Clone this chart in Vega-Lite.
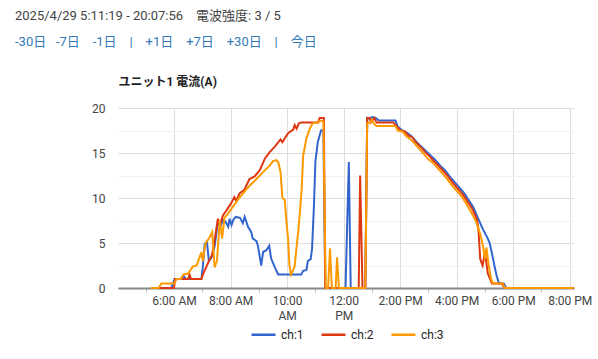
{
  "$schema": "https://vega.github.io/schema/vega-lite/v6.json",
  "width": 456,
  "height": 180,
  "autosize": {"type": "none"},
  "padding": {"left": 118, "top": 108, "right": 24, "bottom": 71},
  "background": "white",
  "config": {"view": {"stroke": null}},
  "title": {
    "text": "2025/4/29 5:11:19 - 20:07:56\u3000電波強度: 3 / 5",
    "subtitle": "-30日\u00a0\u00a0\u00a0-7日\u00a0\u00a0\u00a0\u00a0-1日\u00a0\u00a0\u00a0\u00a0|\u00a0\u00a0\u00a0\u00a0+1日\u00a0\u00a0\u00a0\u00a0+7日\u00a0\u00a0\u00a0\u00a0+30日\u00a0\u00a0\u00a0\u00a0|\u00a0\u00a0\u00a0\u00a0今日",
    "anchor": "start",
    "frame": "group",
    "dx": -103,
    "dy": -22,
    "font": "Roboto, Noto Sans CJK JP, sans-serif",
    "fontSize": 13,
    "fontWeight": "normal",
    "color": "#444444",
    "subtitleFont": "Roboto, Noto Sans CJK JP, sans-serif",
    "subtitleFontSize": 13,
    "subtitleColor": "#337ab7",
    "subtitlePadding": 13
  },
  "data": {
    "format": {"parse": {"t": "date:'%H:%M'"}},
    "values": [
      {"t":"05:11","c":"ch:1","v":0},{"t":"05:54","c":"ch:1","v":0},{"t":"05:58","c":"ch:1","v":0.5},{"t":"06:01","c":"ch:1","v":1.0},{"t":"06:18","c":"ch:1","v":1.0},{"t":"06:21","c":"ch:1","v":1.3},{"t":"06:25","c":"ch:1","v":1.0},{"t":"06:58","c":"ch:1","v":1.0},{"t":"07:01","c":"ch:1","v":2.3},{"t":"07:05","c":"ch:1","v":4.9},{"t":"07:10","c":"ch:1","v":5.0},{"t":"07:14","c":"ch:1","v":3.0},{"t":"07:20","c":"ch:1","v":3.4},{"t":"07:26","c":"ch:1","v":4.6},{"t":"07:33","c":"ch:1","v":7.3},{"t":"07:38","c":"ch:1","v":6.8},{"t":"07:44","c":"ch:1","v":7.6},{"t":"07:50","c":"ch:1","v":7.3},{"t":"07:55","c":"ch:1","v":6.8},{"t":"07:58","c":"ch:1","v":7.7},{"t":"08:02","c":"ch:1","v":7.0},{"t":"08:06","c":"ch:1","v":7.6},{"t":"08:11","c":"ch:1","v":7.9},{"t":"08:20","c":"ch:1","v":7.8},{"t":"08:26","c":"ch:1","v":7.2},{"t":"08:30","c":"ch:1","v":7.9},{"t":"08:37","c":"ch:1","v":6.8},{"t":"08:44","c":"ch:1","v":6.2},{"t":"08:47","c":"ch:1","v":5.5},{"t":"08:55","c":"ch:1","v":5.2},{"t":"08:58","c":"ch:1","v":4.7},{"t":"09:05","c":"ch:1","v":2.5},{"t":"09:09","c":"ch:1","v":4.0},{"t":"09:16","c":"ch:1","v":4.2},{"t":"09:22","c":"ch:1","v":4.7},{"t":"09:26","c":"ch:1","v":3.3},{"t":"09:34","c":"ch:1","v":2.3},{"t":"09:41","c":"ch:1","v":1.5},{"t":"10:30","c":"ch:1","v":1.5},{"t":"10:34","c":"ch:1","v":1.9},{"t":"10:41","c":"ch:1","v":2.0},{"t":"10:44","c":"ch:1","v":3.0},{"t":"10:50","c":"ch:1","v":3.2},{"t":"10:53","c":"ch:1","v":4.4},{"t":"10:57","c":"ch:1","v":9.2},{"t":"11:00","c":"ch:1","v":14.0},{"t":"11:05","c":"ch:1","v":16.2},{"t":"11:12","c":"ch:1","v":17.5},{"t":"11:17","c":"ch:1","v":17.5},{"t":"11:21","c":"ch:1","v":0},{"t":"12:04","c":"ch:1","v":0},{"t":"12:11","c":"ch:1","v":14.0},{"t":"12:15","c":"ch:1","v":0},{"t":"12:46","c":"ch:1","v":0},{"t":"12:50","c":"ch:1","v":18.9},{"t":"12:55","c":"ch:1","v":18.8},{"t":"13:00","c":"ch:1","v":19.0},{"t":"13:08","c":"ch:1","v":18.9},{"t":"13:15","c":"ch:1","v":18.6},{"t":"13:50","c":"ch:1","v":18.6},{"t":"13:55","c":"ch:1","v":17.9},{"t":"14:05","c":"ch:1","v":17.5},{"t":"14:15","c":"ch:1","v":17.2},{"t":"14:25","c":"ch:1","v":16.8},{"t":"14:35","c":"ch:1","v":16.2},{"t":"14:45","c":"ch:1","v":15.7},{"t":"14:55","c":"ch:1","v":15.2},{"t":"15:05","c":"ch:1","v":14.7},{"t":"15:15","c":"ch:1","v":14.2},{"t":"15:25","c":"ch:1","v":13.6},{"t":"15:35","c":"ch:1","v":13.1},{"t":"15:45","c":"ch:1","v":12.4},{"t":"15:55","c":"ch:1","v":11.8},{"t":"16:05","c":"ch:1","v":11.2},{"t":"16:15","c":"ch:1","v":10.6},{"t":"16:25","c":"ch:1","v":9.8},{"t":"16:35","c":"ch:1","v":9.0},{"t":"16:45","c":"ch:1","v":7.8},{"t":"16:55","c":"ch:1","v":6.6},{"t":"17:05","c":"ch:1","v":5.6},{"t":"17:10","c":"ch:1","v":5.0},{"t":"17:15","c":"ch:1","v":3.8},{"t":"17:20","c":"ch:1","v":2.5},{"t":"17:25","c":"ch:1","v":1.3},{"t":"17:30","c":"ch:1","v":0.5},{"t":"17:40","c":"ch:1","v":0.5},{"t":"17:45","c":"ch:1","v":0},{"t":"20:08","c":"ch:1","v":0},

      {"t":"05:11","c":"ch:2","v":0},{"t":"06:00","c":"ch:2","v":0},{"t":"06:02","c":"ch:2","v":1.0},{"t":"06:30","c":"ch:2","v":1.0},{"t":"06:33","c":"ch:2","v":1.5},{"t":"06:36","c":"ch:2","v":1.0},{"t":"06:58","c":"ch:2","v":1.0},{"t":"07:02","c":"ch:2","v":1.6},{"t":"07:08","c":"ch:2","v":2.3},{"t":"07:14","c":"ch:2","v":3.0},{"t":"07:20","c":"ch:2","v":3.6},{"t":"07:24","c":"ch:2","v":4.6},{"t":"07:33","c":"ch:2","v":7.7},{"t":"07:37","c":"ch:2","v":7.0},{"t":"07:44","c":"ch:2","v":8.1},{"t":"07:51","c":"ch:2","v":8.6},{"t":"08:01","c":"ch:2","v":9.4},{"t":"08:08","c":"ch:2","v":10.1},{"t":"08:12","c":"ch:2","v":9.7},{"t":"08:19","c":"ch:2","v":10.5},{"t":"08:29","c":"ch:2","v":10.9},{"t":"08:40","c":"ch:2","v":12.1},{"t":"08:51","c":"ch:2","v":12.4},{"t":"09:02","c":"ch:2","v":13.1},{"t":"09:13","c":"ch:2","v":14.4},{"t":"09:23","c":"ch:2","v":15.1},{"t":"09:34","c":"ch:2","v":15.7},{"t":"09:46","c":"ch:2","v":16.5},{"t":"09:50","c":"ch:2","v":16.2},{"t":"10:02","c":"ch:2","v":17.2},{"t":"10:13","c":"ch:2","v":17.6},{"t":"10:16","c":"ch:2","v":18.1},{"t":"10:20","c":"ch:2","v":17.7},{"t":"10:25","c":"ch:2","v":18.3},{"t":"10:30","c":"ch:2","v":18.4},{"t":"11:06","c":"ch:2","v":18.4},{"t":"11:09","c":"ch:2","v":18.9},{"t":"11:18","c":"ch:2","v":18.9},{"t":"11:21","c":"ch:2","v":0},{"t":"12:32","c":"ch:2","v":0},{"t":"12:35","c":"ch:2","v":12.5},{"t":"12:40","c":"ch:2","v":0},{"t":"12:46","c":"ch:2","v":0},{"t":"12:50","c":"ch:2","v":18.9},{"t":"12:55","c":"ch:2","v":18.9},{"t":"12:58","c":"ch:2","v":18.4},{"t":"13:05","c":"ch:2","v":18.9},{"t":"13:10","c":"ch:2","v":18.4},{"t":"13:45","c":"ch:2","v":18.4},{"t":"13:52","c":"ch:2","v":18.0},{"t":"14:00","c":"ch:2","v":17.5},{"t":"14:10","c":"ch:2","v":17.4},{"t":"14:18","c":"ch:2","v":16.9},{"t":"14:25","c":"ch:2","v":16.8},{"t":"14:33","c":"ch:2","v":16.2},{"t":"14:43","c":"ch:2","v":15.7},{"t":"14:53","c":"ch:2","v":15.1},{"t":"15:03","c":"ch:2","v":14.6},{"t":"15:13","c":"ch:2","v":14.0},{"t":"15:23","c":"ch:2","v":13.5},{"t":"15:33","c":"ch:2","v":12.9},{"t":"15:43","c":"ch:2","v":12.3},{"t":"15:53","c":"ch:2","v":11.6},{"t":"16:03","c":"ch:2","v":11.0},{"t":"16:13","c":"ch:2","v":10.4},{"t":"16:23","c":"ch:2","v":9.6},{"t":"16:33","c":"ch:2","v":8.8},{"t":"16:43","c":"ch:2","v":7.6},{"t":"16:46","c":"ch:2","v":6.6},{"t":"16:50","c":"ch:2","v":3.2},{"t":"16:55","c":"ch:2","v":2.5},{"t":"17:00","c":"ch:2","v":4.0},{"t":"17:06","c":"ch:2","v":1.6},{"t":"17:15","c":"ch:2","v":0.5},{"t":"17:35","c":"ch:2","v":0.5},{"t":"17:42","c":"ch:2","v":0},{"t":"20:08","c":"ch:2","v":0},

      {"t":"05:11","c":"ch:3","v":0},{"t":"05:27","c":"ch:3","v":0},{"t":"05:33","c":"ch:3","v":0.5},{"t":"06:01","c":"ch:3","v":0.5},{"t":"06:05","c":"ch:3","v":1.0},{"t":"06:14","c":"ch:3","v":1.0},{"t":"06:20","c":"ch:3","v":1.5},{"t":"06:30","c":"ch:3","v":1.6},{"t":"06:40","c":"ch:3","v":2.4},{"t":"06:48","c":"ch:3","v":2.5},{"t":"06:54","c":"ch:3","v":3.4},{"t":"06:58","c":"ch:3","v":4.0},{"t":"07:01","c":"ch:3","v":3.0},{"t":"07:07","c":"ch:3","v":5.0},{"t":"07:14","c":"ch:3","v":5.5},{"t":"07:21","c":"ch:3","v":6.2},{"t":"07:26","c":"ch:3","v":2.3},{"t":"07:31","c":"ch:3","v":3.0},{"t":"07:37","c":"ch:3","v":7.5},{"t":"07:42","c":"ch:3","v":5.5},{"t":"07:47","c":"ch:3","v":7.8},{"t":"07:55","c":"ch:3","v":8.3},{"t":"08:03","c":"ch:3","v":8.9},{"t":"08:10","c":"ch:3","v":9.4},{"t":"08:18","c":"ch:3","v":10.0},{"t":"08:25","c":"ch:3","v":10.4},{"t":"08:34","c":"ch:3","v":11.0},{"t":"08:43","c":"ch:3","v":11.5},{"t":"08:51","c":"ch:3","v":11.9},{"t":"09:02","c":"ch:3","v":12.5},{"t":"09:13","c":"ch:3","v":13.1},{"t":"09:23","c":"ch:3","v":13.6},{"t":"09:30","c":"ch:3","v":14.1},{"t":"09:37","c":"ch:3","v":14.2},{"t":"09:41","c":"ch:3","v":14.0},{"t":"09:46","c":"ch:3","v":12.9},{"t":"09:50","c":"ch:3","v":10.0},{"t":"09:55","c":"ch:3","v":9.8},{"t":"09:58","c":"ch:3","v":7.7},{"t":"10:02","c":"ch:3","v":5.5},{"t":"10:05","c":"ch:3","v":2.5},{"t":"10:08","c":"ch:3","v":1.5},{"t":"10:11","c":"ch:3","v":1.8},{"t":"10:16","c":"ch:3","v":2.4},{"t":"10:20","c":"ch:3","v":4.5},{"t":"10:24","c":"ch:3","v":6.5},{"t":"10:28","c":"ch:3","v":9.0},{"t":"10:31","c":"ch:3","v":11.0},{"t":"10:34","c":"ch:3","v":14.7},{"t":"10:41","c":"ch:3","v":16.6},{"t":"10:48","c":"ch:3","v":17.7},{"t":"10:54","c":"ch:3","v":18.3},{"t":"11:05","c":"ch:3","v":18.4},{"t":"11:10","c":"ch:3","v":18.6},{"t":"11:17","c":"ch:3","v":18.5},{"t":"11:22","c":"ch:3","v":0},{"t":"11:27","c":"ch:3","v":0},{"t":"11:31","c":"ch:3","v":4.4},{"t":"11:35","c":"ch:3","v":0},{"t":"11:43","c":"ch:3","v":0},{"t":"11:46","c":"ch:3","v":3.4},{"t":"11:50","c":"ch:3","v":0},{"t":"12:46","c":"ch:3","v":0},{"t":"12:50","c":"ch:3","v":18.3},{"t":"12:57","c":"ch:3","v":18.4},{"t":"13:00","c":"ch:3","v":18.7},{"t":"13:05","c":"ch:3","v":18.2},{"t":"13:10","c":"ch:3","v":18.0},{"t":"13:50","c":"ch:3","v":18.0},{"t":"13:55","c":"ch:3","v":17.5},{"t":"14:05","c":"ch:3","v":17.4},{"t":"14:12","c":"ch:3","v":16.9},{"t":"14:20","c":"ch:3","v":16.6},{"t":"14:30","c":"ch:3","v":16.1},{"t":"14:40","c":"ch:3","v":15.5},{"t":"14:50","c":"ch:3","v":14.9},{"t":"15:00","c":"ch:3","v":14.3},{"t":"15:10","c":"ch:3","v":13.9},{"t":"15:20","c":"ch:3","v":13.3},{"t":"15:30","c":"ch:3","v":12.7},{"t":"15:40","c":"ch:3","v":12.1},{"t":"15:50","c":"ch:3","v":11.4},{"t":"16:00","c":"ch:3","v":10.8},{"t":"16:10","c":"ch:3","v":10.2},{"t":"16:20","c":"ch:3","v":9.4},{"t":"16:30","c":"ch:3","v":8.5},{"t":"16:40","c":"ch:3","v":7.5},{"t":"16:50","c":"ch:3","v":6.0},{"t":"16:56","c":"ch:3","v":4.6},{"t":"17:00","c":"ch:3","v":3.2},{"t":"17:03","c":"ch:3","v":4.5},{"t":"17:08","c":"ch:3","v":2.5},{"t":"17:13","c":"ch:3","v":1.0},{"t":"17:17","c":"ch:3","v":0.5},{"t":"17:38","c":"ch:3","v":0.5},{"t":"17:42","c":"ch:3","v":0},{"t":"20:08","c":"ch:3","v":0}
    ]
  },
  "mark": {"type": "line", "strokeWidth": 2},
  "encoding": {
    "x": {
      "field": "t",
      "type": "temporal",
      "scale": {"domain": [{"year": 1900, "hours": 4, "minutes": 1}, {"year": 1900, "hours": 20, "minutes": 9}]},
      "axis": {
        "title": null,
        "values": [
          {"year":1900,"hours":5},{"year":1900,"hours":6},{"year":1900,"hours":7},{"year":1900,"hours":8},
          {"year":1900,"hours":9},{"year":1900,"hours":10},{"year":1900,"hours":11},{"year":1900,"hours":12},
          {"year":1900,"hours":13},{"year":1900,"hours":14},{"year":1900,"hours":15},{"year":1900,"hours":16},
          {"year":1900,"hours":17},{"year":1900,"hours":18},{"year":1900,"hours":19},{"year":1900,"hours":20}
        ],
        "grid": true,
        "gridColor": "#dddddd",
        "gridOpacity": {"condition": {"test": "hours(datum.value) % 2 == 1", "value": 0}, "value": 1},
        "ticks": true,
        "tickSize": 4,
        "tickColor": "#bbbbbb",
        "tickOpacity": {"condition": {"test": "hours(datum.value) % 2 == 0", "value": 0}, "value": 1},
        "labelExpr": "hours(datum.value) % 2 == 1 ? '' : (hours(datum.value) == 10 ? ['10:00', 'AM'] : (hours(datum.value) == 12 ? ['12:00', 'PM'] : timeFormat(datum.value, '%-I:%M %p')))",
        "labelOverlap": false,
        "labelFlush": false,
        "labelBound": false,
        "labelFont": "Roboto, sans-serif",
        "labelFontSize": 12,
        "labelColor": "#444444",
        "labelPadding": 3,
        "labelLineHeight": 15,
        "domainColor": "#888888",
        "domainWidth": 2
      }
    },
    "y": {
      "field": "v",
      "type": "quantitative",
      "scale": {"domain": [0, 20], "nice": false},
      "axis": {
        "values": [0, 2.5, 5, 7.5, 10, 12.5, 15, 17.5, 20],
        "labelExpr": "datum.value % 5 == 0 ? datum.label : ''",
        "gridColor": {"condition": {"test": "datum.value % 5 != 0", "value": "#f1f1f1"}, "value": "#dddddd"},
        "domain": false,
        "ticks": false,
        "labelFont": "Roboto, sans-serif",
        "labelFontSize": 12,
        "labelColor": "#444444",
        "labelPadding": 13,
        "title": "ユニット1 電流(A)",
        "titleAngle": 0,
        "titleX": 0,
        "titleY": -27,
        "titleAlign": "left",
        "titleBaseline": "middle",
        "titleFont": "Roboto, Noto Sans CJK JP, sans-serif",
        "titleFontSize": 12,
        "titleFontWeight": "bold",
        "titleColor": "#222222"
      }
    },
    "color": {
      "field": "c",
      "type": "nominal",
      "scale": {"domain": ["ch:1", "ch:2", "ch:3"], "range": ["#3366cc", "#dc3912", "#ff9900"]},
      "legend": {
        "orient": "none",
        "legendX": 132,
        "legendY": 213,
        "direction": "horizontal",
        "title": null,
        "symbolType": "stroke",
        "symbolSize": 576,
        "symbolStrokeWidth": 2.5,
        "labelFont": "Roboto, sans-serif",
        "labelFontSize": 12,
        "labelColor": "#222222",
        "labelOffset": 4,
        "columnPadding": 12
      }
    }
  }
}
